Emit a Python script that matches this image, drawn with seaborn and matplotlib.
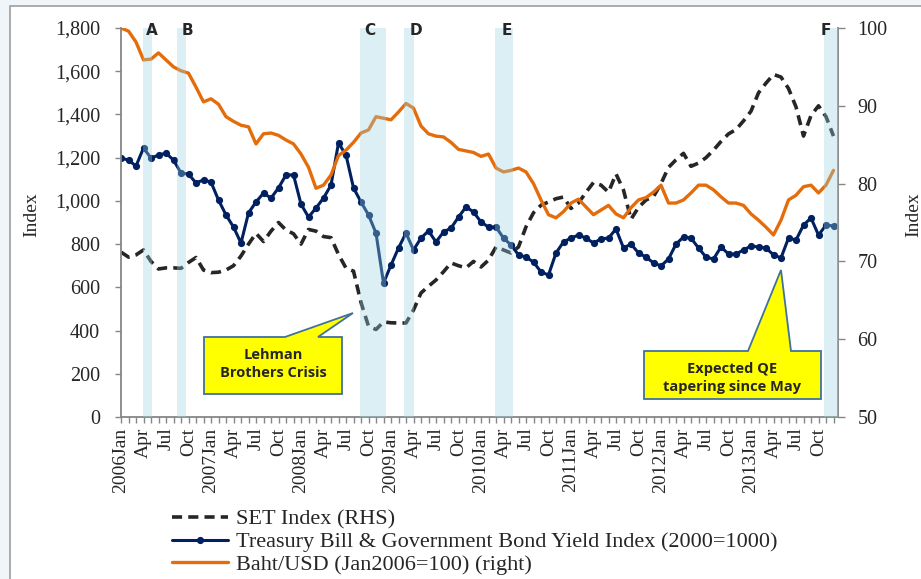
import numpy as np
import pandas as pd
import seaborn as sns
import matplotlib.pyplot as plt
from matplotlib.patches import Polygon, Rectangle
from matplotlib.ticker import FuncFormatter, MultipleLocator

# monthly values, Jan 2006 - Dec 2013
set_index = [763, 740, 750, 773, 720, 685, 690, 690, 688, 715, 738, 680,
             668, 670, 680, 700, 745, 800, 850, 812, 860, 900, 865, 848,
             800, 868, 860, 835, 830, 752, 689, 675, 530, 420, 405, 440,
             436, 435, 435, 495, 574, 605, 634, 672, 713, 700, 690, 720,
             694, 726, 787, 773, 759, 787, 880, 945, 980, 995, 1010, 1018,
             965, 990, 1040, 1085, 1073, 1040, 1125, 1050, 915, 970, 1004, 1020,
             1080, 1155, 1190, 1220, 1160, 1175, 1200, 1235, 1275, 1310, 1330, 1370,
             1415, 1500, 1545, 1585, 1573, 1520, 1435, 1300, 1395, 1440, 1390, 1300]

bond_yield_index = [1198, 1189, 1161, 1245, 1198, 1212, 1221, 1189, 1129, 1124, 1083, 1097,
                    1087, 1004, 935, 879, 805, 944, 995, 1036, 1013, 1060, 1120, 1120,
                    985, 925, 967, 1013, 1073, 1268, 1212, 1060, 995, 935, 851, 620,
                    703, 782, 851, 773, 828, 861, 810, 856, 874, 925, 972, 949,
                    902, 879, 879, 828, 796, 750, 740, 717, 671, 657, 759, 810,
                    828, 842, 828, 805, 824, 828, 870, 782, 800, 759, 740, 713,
                    699, 731, 800, 833, 828, 782, 740, 731, 787, 754, 754, 773,
                    791, 787, 782, 750, 736, 828, 819, 888, 921, 842, 888, 884]

baht_usd = [100, 99.6, 98.2, 95.9, 96.0, 96.8, 95.9, 95.0, 94.5, 94.2, 92.4, 90.5,
            90.9, 90.2, 88.6, 88.0, 87.5, 87.3, 85.1, 86.4, 86.5, 86.2, 85.6, 85.1,
            83.8, 82.1, 79.4, 79.8, 81.1, 83.6, 84.3, 85.3, 86.5, 86.9, 88.6, 88.4,
            88.2, 89.2, 90.3, 89.7, 87.4, 86.4, 86.1, 86.0, 85.3, 84.4, 84.2, 84.0,
            83.5, 83.8, 82.0, 81.5, 81.7, 82.0, 81.5, 80.0, 77.9, 76.0, 75.6, 76.4,
            77.5, 78.0, 77.0, 76.0, 76.6, 77.2, 76.1, 75.6, 76.9, 77.9, 78.2, 78.9,
            79.8, 77.5, 77.5, 77.9, 78.8, 79.8, 79.8, 79.2, 78.3, 77.5, 77.5, 77.2,
            76.1, 75.3, 74.4, 73.4, 75.3, 77.9, 78.5, 79.6, 79.8, 78.8, 79.8, 81.7]

years = list(range(2006, 2014))
quarter_months = ['Jan', 'Apr', 'Jul', 'Oct']

# shaded event periods (in month positions) and their letters
band_start = [2.93, 7.47, 31.9, 37.7, 49.9, 93.7]
band_end = [4.13, 8.67, 35.3, 39.1, 52.3, 95.6]
band_names = ['A', 'B', 'C', 'D', 'E', 'F']
band_label_x = [4.1, 8.9, 33.2, 39.3, 51.5, 94.0]

legend_labels = ['SET Index (RHS)',
                 'Treasury Bill & Government Bond Yield Index (2000=1000)',
                 'Baht/USD (Jan2006=100) (right)']

n = len(set_index)
df = pd.DataFrame({'t': np.arange(n), 'SET': set_index,
                   'Bond': bond_yield_index, 'Baht': baht_usd})

tick_labels = []
for i in range(0, n, 3):
    y, q = divmod(i // 3, 4)
    tick_labels.append(f'{years[y]}Jan' if q == 0 else quarter_months[q])

sns.set_style('white')
plt.rcParams['font.family'] = ['Liberation Serif', 'DejaVu Serif']

W, H = 921, 579
fig = plt.figure(figsize=(W / 100, H / 100), dpi=100, facecolor='#EFF5F9')
fig.patches.append(Rectangle((10 / W, -0.05), 1.0, 1.05 - 6 / H, transform=fig.transFigure,
                             fc='white', ec='#A5A5A5', lw=1.3, zorder=-10))

# plot area in pixels: x 121..838, y 28..417
ax = fig.add_axes([121 / W, 1 - 417 / H, 717 / W, 389 / H])
ax2 = ax.twinx()

sns.lineplot(data=df, x='t', y='SET', ax=ax, color='#262626', lw=2.6,
             linestyle=(0, (2.8, 1.7)), label=legend_labels[0])
sns.lineplot(data=df, x='t', y='Bond', ax=ax, color='#002060', lw=2.2,
             marker='o', markersize=5.2, markeredgewidth=0, label=legend_labels[1])
sns.lineplot(data=df, x='t', y='Baht', ax=ax2, color='#E46C0A', lw=2.4,
             label=legend_labels[2])

h1, l1 = ax.get_legend_handles_labels()
h2, l2 = ax2.get_legend_handles_labels()
for a in (ax, ax2):
    if a.get_legend() is not None:
        a.get_legend().remove()

ax.set_xlim(0, 95.6)
ax.set_ylim(0, 1800)
ax2.set_ylim(50, 100)
ax.set_yticks(range(0, 1801, 200))
ax.yaxis.set_major_formatter(FuncFormatter(lambda v, p: f'{int(v):,}'))
ax2.set_yticks(range(50, 101, 10))
ax.set_xticks(range(0, n, 3))
ax.set_xticklabels(tick_labels, rotation=90)
ax.xaxis.set_minor_locator(MultipleLocator(1))

spine_c = '#868686'
for s in ['top', 'right']:
    ax.spines[s].set_visible(False)
for s in ['top', 'left', 'bottom']:
    ax2.spines[s].set_visible(False)
for s in ['left', 'bottom']:
    ax.spines[s].set_color(spine_c)
    ax.spines[s].set_linewidth(1.3)
ax2.spines['right'].set_color(spine_c)
ax2.spines['right'].set_linewidth(1.3)

ax.tick_params(axis='y', direction='out', length=4, width=1, color=spine_c,
               labelsize=14.5, pad=11, left=True)
ax.tick_params(axis='x', which='both', direction='out', length=4.5, width=1,
               color=spine_c, labelsize=14, pad=3, bottom=True)
ax.tick_params(axis='x', which='minor', labelbottom=False)
ax2.tick_params(axis='y', direction='out', length=5, width=1, color=spine_c,
                labelsize=14.5, pad=9, right=True)

ax.set_xlabel('')
ax.set_ylabel('Index', fontsize=14)
ax.yaxis.set_label_coords(-0.113, 0.52)
ax2.set_ylabel('Index', fontsize=14, rotation=90)
ax2.yaxis.set_label_coords(1.094, 0.52)

# translucent event bands drawn over the lines
for s, e in zip(band_start, band_end):
    ax2.axvspan(s, e, color='#9CD3E2', alpha=0.35, lw=0, zorder=5)
for name, x in zip(band_names, band_label_x):
    ax2.text(x, 0.993, name, transform=ax2.get_xaxis_transform(), ha='center', va='center',
             fontsize=11, fontweight='bold', family='DejaVu Sans', zorder=8)


def px(p):
    return ((p[0] - 121) / 717, (417 - p[1]) / 389)


lehman_shape = [(204, 337), (285, 337), (353, 313), (318, 337), (342, 337), (342, 394), (204, 394)]
qe_shape = [(644, 351), (748, 351), (781, 270), (791, 351), (821, 351), (821, 399), (644, 399)]
for shape, center, text in [(lehman_shape, (273, 364), 'Lehman\nBrothers Crisis'),
                            (qe_shape, (732, 378), 'Expected QE\ntapering since May')]:
    ax2.add_patch(Polygon([px(p) for p in shape], closed=True, transform=ax2.transAxes,
                          fc='#FFFF00', ec='#41719C', lw=1.3, zorder=7, clip_on=False))
    cx, cy = px(center)
    ax2.text(cx, cy, text, transform=ax2.transAxes, ha='center', va='center',
             fontsize=10.5, fontweight='bold', family='Open Sans', linespacing=1.35, zorder=8)

fig.legend(h1 + h2, l1 + l2, loc='upper left', bbox_to_anchor=(172 / W, 1 - 509 / H),
           frameon=False, fontsize=16, handlelength=2.5, handletextpad=0.36,
           labelspacing=0.1, borderaxespad=0, borderpad=0)

fig.savefig('out.png', dpi=100, facecolor=fig.get_facecolor())
